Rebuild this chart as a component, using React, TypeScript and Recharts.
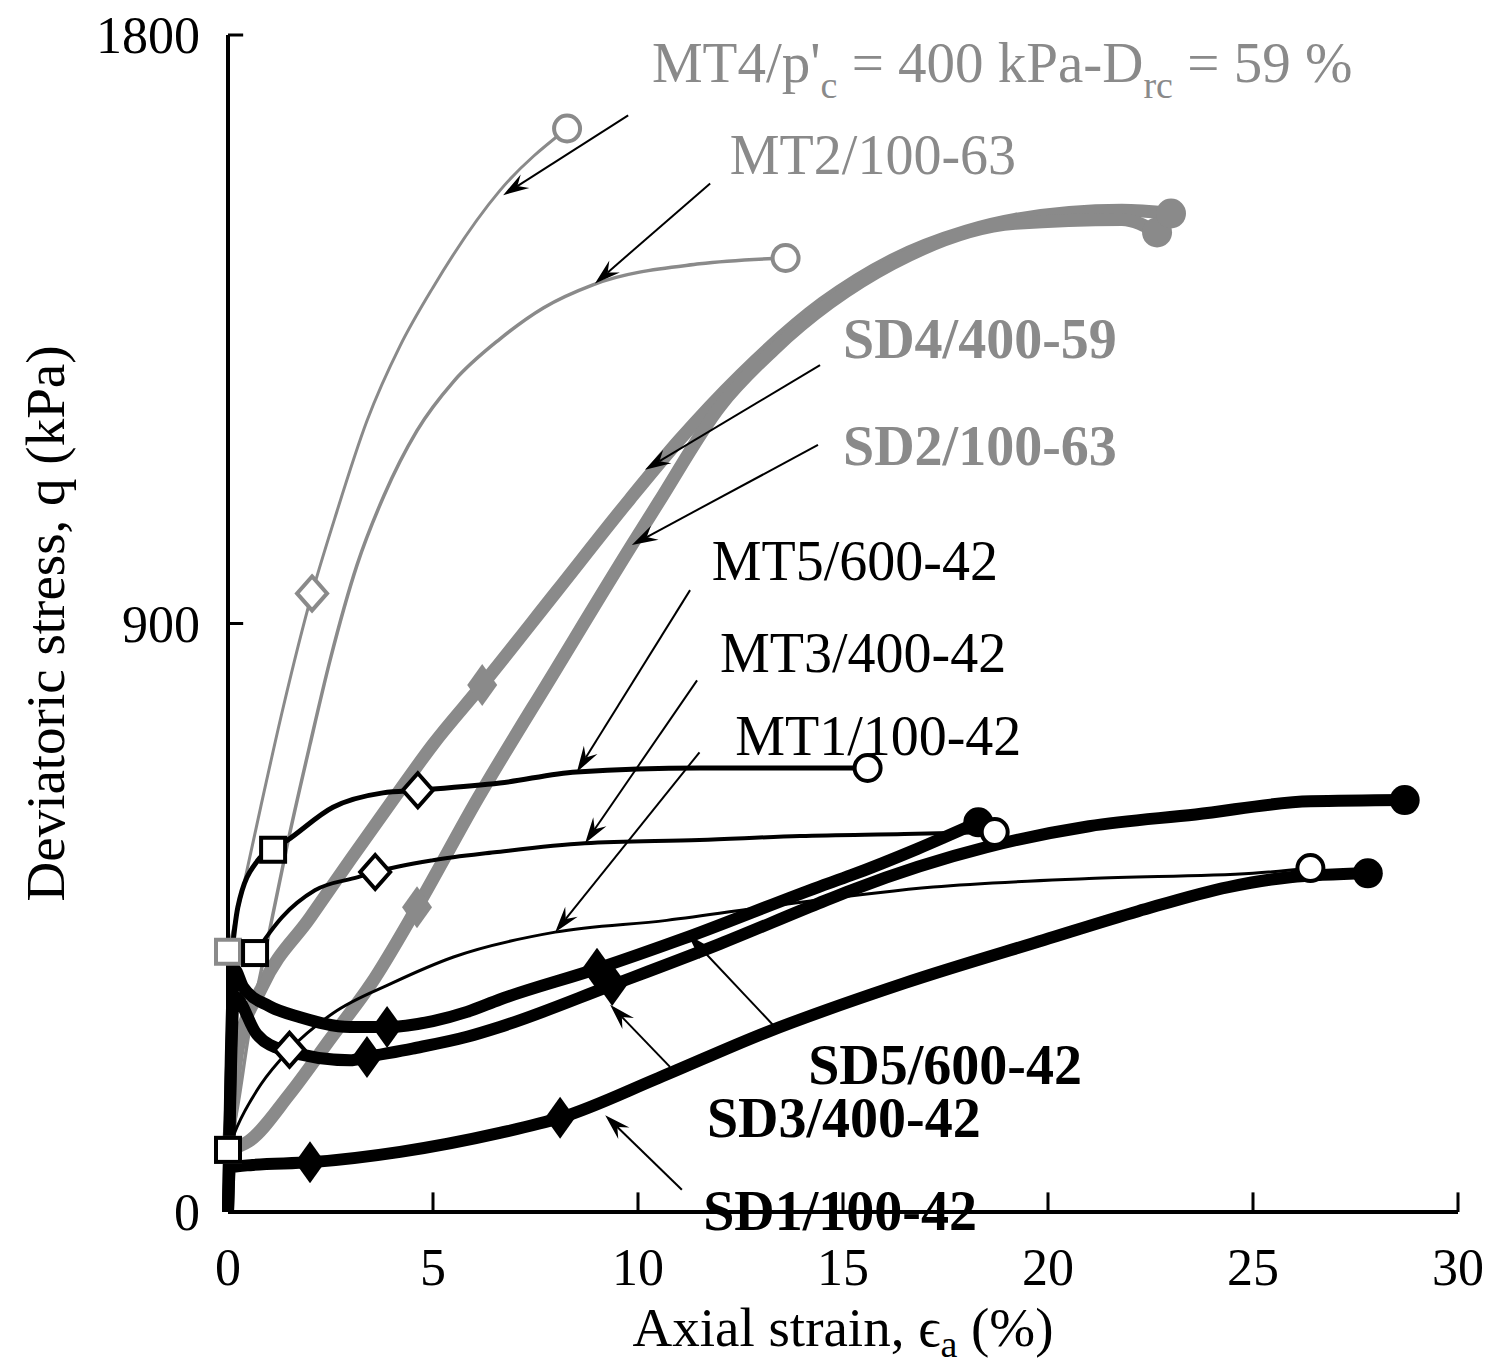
import React from 'react';
import {
    ComposedChart,
    Line,
    Scatter,
    XAxis,
    YAxis,
    ReferenceLine,
    ReferenceDot,
    Label,
} from 'recharts';

const GREY = '#8a8a8a';
const FONT = '"Liberation Serif", "Times New Roman", serif';

const xTicks = [0, 5, 10, 15, 20, 25, 30];
const yTicks = [0, 900, 1800];

// monotonic tests (thin lines)
const mt4 = [
    { x: 0, y: 398 }, { x: 0.4, y: 505 }, { x: 0.8, y: 620 }, { x: 1.34, y: 770 },
    { x: 2.05, y: 946 }, { x: 2.6, y: 1060 }, { x: 3.39, y: 1210 }, { x: 4.2, y: 1325 },
    { x: 5.0, y: 1414 }, { x: 6.63, y: 1562 }, { x: 8.27, y: 1657 },
];
const mt2 = [
    { x: 0, y: 95 }, { x: 0.2, y: 150 }, { x: 0.5, y: 270 }, { x: 0.98, y: 420 },
    { x: 1.44, y: 560 }, { x: 2.0, y: 715 }, { x: 2.49, y: 844 }, { x: 3.15, y: 990 },
    { x: 3.8, y: 1095 }, { x: 4.61, y: 1195 }, { x: 5.5, y: 1270 }, { x: 6.63, y: 1335 },
    { x: 7.7, y: 1383 }, { x: 8.9, y: 1418 }, { x: 11.5, y: 1450 }, { x: 13.6, y: 1459 },
];
const mt5 = [
    { x: 0.05, y: 370 }, { x: 0.24, y: 466 }, { x: 0.73, y: 538 }, { x: 1.1, y: 554 },
    { x: 1.46, y: 569 }, { x: 2.56, y: 619 }, { x: 3.78, y: 641 }, { x: 4.63, y: 645 },
    { x: 6.63, y: 656 }, { x: 8.5, y: 673 }, { x: 11.5, y: 679 }, { x: 15.6, y: 679 },
];
const mt3 = [
    { x: 0.66, y: 396 }, { x: 1.32, y: 451 }, { x: 2.12, y: 492 }, { x: 3.17, y: 512 },
    { x: 3.59, y: 520 }, { x: 5.0, y: 538 }, { x: 6.5, y: 550 }, { x: 8.7, y: 564 },
    { x: 11.5, y: 569 }, { x: 13.95, y: 575 }, { x: 16.5, y: 578 }, { x: 18.7, y: 581 },
];
const mt1 = [
    { x: 0, y: 95 }, { x: 0.22, y: 130 }, { x: 0.8, y: 195 }, { x: 1.5, y: 248 },
    { x: 2.56, y: 304 }, { x: 4, y: 350 }, { x: 5.5, y: 390 }, { x: 7.98, y: 428 },
    { x: 10.7, y: 446 }, { x: 13.5, y: 470 }, { x: 17.2, y: 497 }, { x: 21, y: 510 },
    { x: 25.0, y: 518 }, { x: 26.4, y: 526 },
];

// drained tests (thick lines)
const sd4 = [
    { x: 0, y: 95 }, { x: 0.25, y: 250 }, { x: 0.83, y: 344 }, { x: 2.0, y: 450 },
    { x: 3.0, y: 540 }, { x: 4.02, y: 630 }, { x: 5.0, y: 715 }, { x: 6.2, y: 806 },
    { x: 8.0, y: 948 }, { x: 9.8, y: 1090 }, { x: 11.0, y: 1180 }, { x: 12.5, y: 1280 },
    { x: 14.5, y: 1390 }, { x: 16.2, y: 1456 }, { x: 18, y: 1500 }, { x: 19.2, y: 1518 },
    { x: 21.8, y: 1532 }, { x: 23.0, y: 1527 },
];
const sd2 = [
    { x: 0, y: 95 }, { x: 0.5, y: 108 }, { x: 1.5, y: 180 }, { x: 2.5, y: 265 },
    { x: 3.5, y: 350 }, { x: 4.61, y: 466 }, { x: 6.07, y: 630 }, { x: 8.0, y: 830 },
    { x: 9.85, y: 1020 }, { x: 10.5, y: 1085 }, { x: 12, y: 1232 }, { x: 13.3, y: 1318 },
    { x: 16.2, y: 1450 }, { x: 19.2, y: 1512 }, { x: 21.8, y: 1518 }, { x: 22.66, y: 1498 },
];
const sd5 = [
    { x: 0, y: 0 }, { x: 0.15, y: 372 }, { x: 0.37, y: 344 }, { x: 1.0, y: 315 },
    { x: 1.76, y: 298 }, { x: 2.98, y: 283 }, { x: 3.88, y: 283 }, { x: 5.0, y: 292 },
    { x: 5.83, y: 306 }, { x: 6.63, y: 325 }, { x: 9.0, y: 372 }, { x: 11.1, y: 418 },
    { x: 14.4, y: 497 }, { x: 15.2, y: 515 }, { x: 16.8, y: 555 }, { x: 18.3, y: 596 },
];
const sd3 = [
    { x: 0, y: 0 }, { x: 0.15, y: 330 }, { x: 0.7, y: 272 }, { x: 1.34, y: 248 },
    { x: 2.98, y: 232 }, { x: 3.39, y: 237 }, { x: 4.5, y: 250 }, { x: 5.83, y: 268 },
    { x: 6.63, y: 283 }, { x: 9.37, y: 347 }, { x: 12, y: 410 }, { x: 14.4, y: 472 },
    { x: 15.2, y: 492 }, { x: 18.5, y: 558 }, { x: 21, y: 590 }, { x: 23.6, y: 608 },
    { x: 26.4, y: 628 }, { x: 28.7, y: 630 },
];
const sd1 = [
    { x: 0, y: 0 }, { x: 0.05, y: 68 }, { x: 0.6, y: 72 }, { x: 2.0, y: 76 },
    { x: 4.2, y: 92 }, { x: 6.63, y: 121 }, { x: 8.1, y: 144 }, { x: 10.5, y: 205 },
    { x: 13.1, y: 274 }, { x: 16.5, y: 350 }, { x: 19.9, y: 416 }, { x: 22.2, y: 460 },
    { x: 24.4, y: 497 }, { x: 25.9, y: 512 }, { x: 27.8, y: 518 },
];

// markers
const squaresGrey = [{ x: 0, y: 95 }, { x: 0, y: 398 }];
const squaresBlack = [{ x: 0, y: 95 }, { x: 0.66, y: 396 }, { x: 1.1, y: 554 }];
const diamondsGrey = [{ x: 2.05, y: 946 }];
const diamondsBlack = [{ x: 1.5, y: 248 }, { x: 3.59, y: 520 }, { x: 4.63, y: 645 }];
const circlesGrey = [{ x: 8.27, y: 1657 }, { x: 13.6, y: 1459 }];
const circlesBlack = [{ x: 15.6, y: 679 }, { x: 18.7, y: 581 }, { x: 26.4, y: 526 }];
const sdMarksGrey = [{ x: 6.2, y: 806 }, { x: 4.61, y: 466 }];
const sdMarksBlack = [
    { x: 2.0, y: 76 }, { x: 8.1, y: 144 }, { x: 3.39, y: 237 },
    { x: 9.37, y: 347 }, { x: 3.88, y: 283 }, { x: 9.0, y: 372 },
];
const sdEndsGrey = [{ x: 22.66, y: 1498 }, { x: 23.0, y: 1527 }];
const sdEndsBlack = [{ x: 27.8, y: 518 }, { x: 28.7, y: 630 }, { x: 18.3, y: 596 }];

// annotations
const arrows = [
    { from: [9.76, 1677], to: [6.71, 1555] },
    { from: [11.76, 1573], to: [8.95, 1420] },
    { from: [14.44, 1295], to: [10.17, 1135] },
    { from: [14.39, 1173], to: [9.85, 1020] },
    { from: [11.27, 951], to: [8.51, 673] },
    { from: [11.44, 813], to: [8.71, 564] },
    { from: [11.5, 703], to: [7.98, 428] },
    { from: [13.34, 283], to: [11.22, 424] },
    { from: [10.78, 222], to: [9.32, 317] },
    { from: [11.07, 34], to: [9.2, 148] },
];

const labels = [
    { x: 12.24, y: 1587, text: 'MT2/100-63', color: GREY, bold: false },
    { x: 15.0, y: 1306, text: 'SD4/400-59', color: GREY, bold: true },
    { x: 15.0, y: 1142, text: 'SD2/100-63', color: GREY, bold: true },
    { x: 11.8, y: 966, text: 'MT5/600-42', color: '#000', bold: false },
    { x: 12.0, y: 826, text: 'MT3/400-42', color: '#000', bold: false },
    { x: 12.37, y: 699, text: 'MT1/100-42', color: '#000', bold: false },
    { x: 14.15, y: 196, text: 'SD5/600-42', color: '#000', bold: true },
    { x: 11.68, y: 114, text: 'SD3/400-42', color: '#000', bold: true },
    { x: 11.59, y: -27, text: 'SD1/100-42', color: '#000', bold: true },
];

const markerShape = (kind: string, color: string) => (p: any) => {
    const { cx, cy } = p;
    if (kind === 'square')
        return <rect x={cx - 12} y={cy - 12} width={24} height={24} fill="#fff" stroke={color} strokeWidth={4} />;
    if (kind === 'diamond')
        return (
            <path
                d={`M${cx},${cy - 17} L${cx + 15},${cy} L${cx},${cy + 17} L${cx - 15},${cy} Z`}
                fill="#fff"
                stroke={color}
                strokeWidth={4}
            />
        );
    if (kind === 'circle')
        return <circle cx={cx} cy={cy} r={13} fill="#fff" stroke={color} strokeWidth={4} />;
    if (kind === 'fdiamond')
        return (
            <path
                d={`M${cx},${cy - 21} L${cx + 15},${cy} L${cx},${cy + 21} L${cx - 15},${cy} Z`}
                fill={color}
            />
        );
    return <circle cx={cx} cy={cy} r={15} fill={color} />;
};

const arrowShape = (p: any) => {
    const { x1, y1, x2, y2 } = p;
    const dx = x2 - x1;
    const dy = y2 - y1;
    const len = Math.sqrt(dx * dx + dy * dy) || 1;
    const ux = dx / len;
    const uy = dy / len;
    const nx = -uy;
    const ny = ux;
    const L = 26;
    const W = 8;
    const bx = x2 - ux * L;
    const by = y2 - uy * L;
    const mx = x2 - ux * L * 0.65;
    const my = y2 - uy * L * 0.65;
    return (
        <g>
            <line x1={x1} y1={y1} x2={mx} y2={my} stroke="#000" strokeWidth={2} />
            <path
                d={`M${x2},${y2} L${bx + nx * W},${by + ny * W} L${mx},${my} L${bx - nx * W},${by - ny * W} Z`}
                fill="#000"
            />
        </g>
    );
};

const lines = [
    { data: sd4, color: GREY, width: 13 },
    { data: sd2, color: GREY, width: 13 },
    { data: mt4, color: GREY, width: 3 },
    { data: mt2, color: GREY, width: 3.5 },
    { data: sd1, color: '#000', width: 12 },
    { data: sd3, color: '#000', width: 12 },
    { data: sd5, color: '#000', width: 12 },
    { data: mt5, color: '#000', width: 5 },
    { data: mt3, color: '#000', width: 4 },
    { data: mt1, color: '#000', width: 3 },
];

const markers = [
    { data: sdMarksGrey, kind: 'fdiamond', color: GREY },
    { data: sdEndsGrey, kind: 'fcircle', color: GREY },
    { data: sdMarksBlack, kind: 'fdiamond', color: '#000' },
    { data: sdEndsBlack, kind: 'fcircle', color: '#000' },
    { data: squaresGrey, kind: 'square', color: GREY },
    { data: squaresBlack, kind: 'square', color: '#000' },
    { data: diamondsGrey, kind: 'diamond', color: GREY },
    { data: diamondsBlack, kind: 'diamond', color: '#000' },
    { data: circlesGrey, kind: 'circle', color: GREY },
    { data: circlesBlack, kind: 'circle', color: '#000' },
];

const XTitle = (props: any) => {
    const { viewBox } = props;
    const cx = viewBox.x + viewBox.width / 2;
    return (
        <text x={cx} y={viewBox.y + 134} textAnchor="middle" fontFamily={FONT} fontSize={55} fill="#000">
            Axial strain, ϵ<tspan dy={11} fontSize={38}>a</tspan>
            <tspan dy={-11}> (%)</tspan>
        </text>
    );
};

const YTitle = (props: any) => {
    const { viewBox } = props;
    const cy = viewBox.y + viewBox.height / 2;
    const x = 64;
    return (
        <text
            x={x}
            y={cy}
            transform={`rotate(-90, ${x}, ${cy})`}
            textAnchor="middle"
            fontFamily={FONT}
            fontSize={55}
            fill="#000"
        >
            Deviatoric stress, q (kPa)
        </text>
    );
};

const Mt4Label = (p: any) => (
    <text x={p.cx} y={p.cy} fontFamily={FONT} fontSize={57} fill={GREY}>
        MT4/p'<tspan dy={16} fontSize={38}>c</tspan>
        <tspan dy={-16}> = 400 kPa-D</tspan>
        <tspan dy={16} fontSize={38}>rc</tspan>
        <tspan dy={-16}> = 59 %</tspan>
    </text>
);

export default function App() {
    return (
        <div style={{ position: 'absolute', left: 0, top: 0, background: '#fff' }}>
            <ComposedChart width={1490} height={1369} margin={{ top: 35, right: 32, bottom: 97, left: 168 }}>
                <XAxis
                    type="number"
                    dataKey="x"
                    domain={[0, 30]}
                    ticks={xTicks}
                    height={60}
                    tickSize={0}
                    tickMargin={36}
                    tickLine={false}
                    axisLine={{ stroke: '#000', strokeWidth: 4 }}
                    tick={{ fill: '#000', fontSize: 52, fontFamily: FONT }}
                >
                    <Label content={XTitle} />
                </XAxis>
                <YAxis
                    type="number"
                    dataKey="y"
                    domain={[0, 1800]}
                    ticks={yTicks}
                    width={60}
                    tickSize={0}
                    tickMargin={28}
                    tickLine={false}
                    axisLine={{ stroke: '#000', strokeWidth: 4 }}
                    tick={{ fill: '#000', fontSize: 52, fontFamily: FONT }}
                >
                    <Label content={YTitle} />
                </YAxis>

                {xTicks.slice(1).map((t) => (
                    <ReferenceLine
                        key={`xt-${t}`}
                        segment={[{ x: t, y: 0 }, { x: t, y: 30 }]}
                        stroke="#000"
                        strokeWidth={3}
                    />
                ))}
                {yTicks.slice(1).map((t) => (
                    <ReferenceLine
                        key={`yt-${t}`}
                        segment={[{ x: 0, y: t }, { x: 0.37, y: t }]}
                        stroke="#000"
                        strokeWidth={3}
                    />
                ))}

                {lines.map((s, i) => (
                    <Line
                        key={`line-${i}`}
                        data={s.data}
                        dataKey="y"
                        type="monotone"
                        stroke={s.color}
                        strokeWidth={s.width}
                        dot={false}
                        activeDot={false}
                        isAnimationActive={false}
                    />
                ))}

                {arrows.map((a, i) => (
                    <ReferenceLine
                        key={`arrow-${i}`}
                        segment={[{ x: a.from[0], y: a.from[1] }, { x: a.to[0], y: a.to[1] }]}
                        shape={arrowShape}
                    />
                ))}

                {markers.map((m, i) => (
                    <Scatter
                        key={`mark-${i}`}
                        data={m.data}
                        shape={markerShape(m.kind, m.color)}
                        isAnimationActive={false}
                    />
                ))}

                <ReferenceDot x={10.34} y={1728} ifOverflow="visible" shape={Mt4Label} />
                {labels.map((l, i) => (
                    <ReferenceDot
                        key={`lab-${i}`}
                        x={l.x}
                        y={l.y}
                        ifOverflow="visible"
                        shape={(p: any) => (
                            <text
                                x={p.cx}
                                y={p.cy}
                                fontFamily={FONT}
                                fontSize={56}
                                fontWeight={l.bold ? 'bold' : 'normal'}
                                fill={l.color}
                            >
                                {l.text}
                            </text>
                        )}
                    />
                ))}
            </ComposedChart>
        </div>
    );
}
